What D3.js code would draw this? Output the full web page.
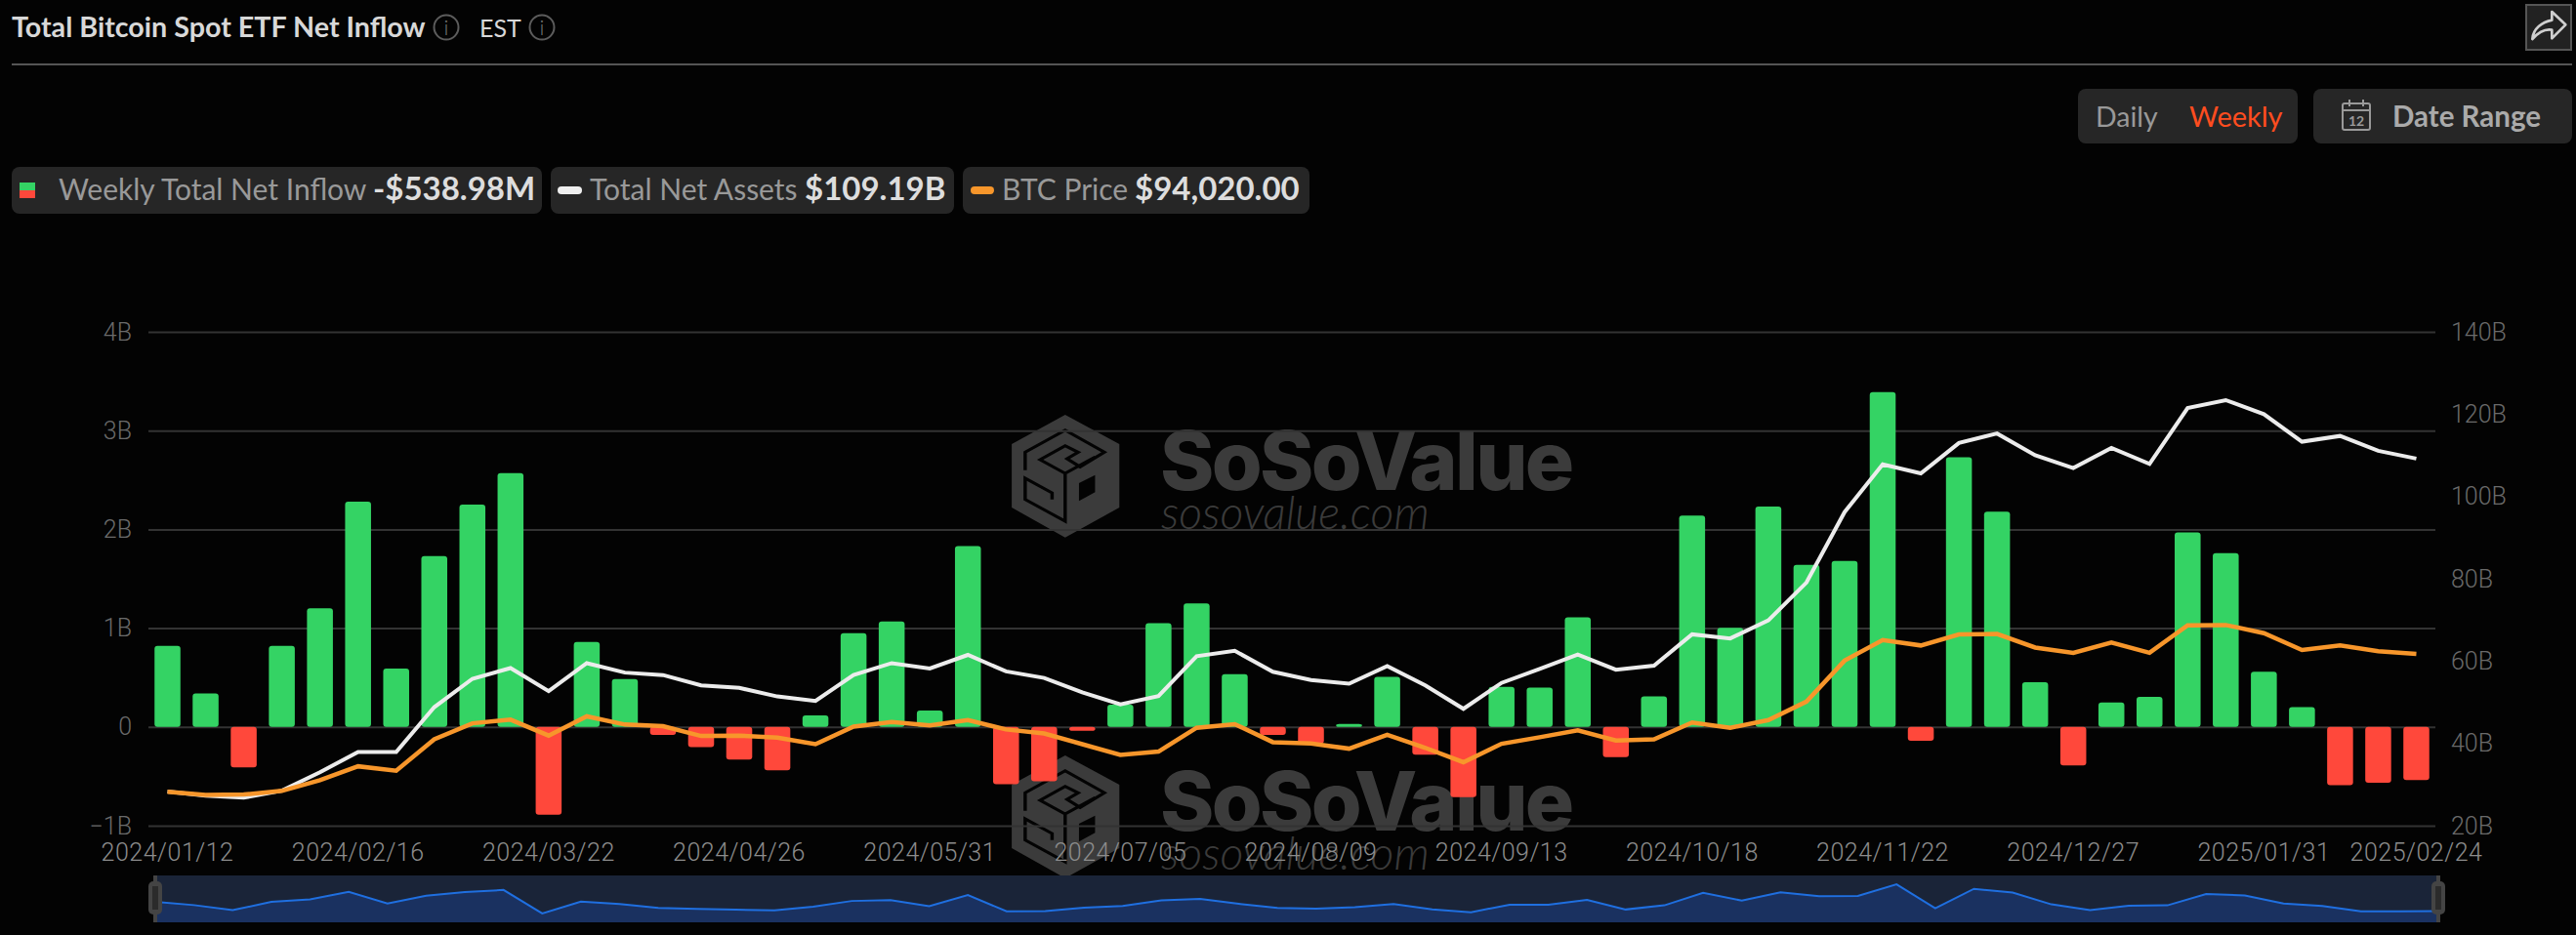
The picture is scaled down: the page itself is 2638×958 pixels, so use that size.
<!DOCTYPE html>
<html>
<head>
<meta charset="utf-8">
<title>Total Bitcoin Spot ETF Net Inflow</title>
<script src="https://cdn.jsdelivr.net/npm/d3@7/dist/d3.min.js"></script>
<style>
  html, body { margin: 0; padding: 0; background: #030303; overflow: hidden; }
  svg { display: block; }
  text { font-family: Lato, sans-serif; }
  .axis text { font-family: Roboto, sans-serif; font-weight: 300; }
  .axis .domain { display: none; }
</style>
</head>
<body>
<svg id="chart"></svg>
<script>
const categories = [
  '2024/01/12', '2024/01/19', '2024/01/26', '2024/02/02', '2024/02/09', '2024/02/16', '2024/02/23',
  '2024/03/01', '2024/03/08', '2024/03/15', '2024/03/22', '2024/03/29', '2024/04/05', '2024/04/12',
  '2024/04/19', '2024/04/26', '2024/05/03', '2024/05/10', '2024/05/17', '2024/05/24', '2024/05/31',
  '2024/06/07', '2024/06/14', '2024/06/21', '2024/06/28', '2024/07/05', '2024/07/12', '2024/07/19',
  '2024/07/26', '2024/08/02', '2024/08/09', '2024/08/16', '2024/08/23', '2024/08/30', '2024/09/06',
  '2024/09/13', '2024/09/20', '2024/09/27', '2024/10/04', '2024/10/11', '2024/10/18', '2024/10/25',
  '2024/11/01', '2024/11/08', '2024/11/15', '2024/11/22', '2024/11/29', '2024/12/06', '2024/12/13',
  '2024/12/20', '2024/12/27', '2025/01/03', '2025/01/10', '2025/01/17', '2025/01/24', '2025/01/31',
  '2025/02/07', '2025/02/14', '2025/02/21', '2025/02/24'
];

// weekly net inflow, in billions
const netInflow = [
  0.82, 0.34, -0.41, 0.82, 1.20, 2.28, 0.59, 1.73, 2.25, 2.57,
  -0.89, 0.86, 0.485, -0.08, -0.205, -0.33, -0.44, 0.117, 0.95, 1.067,
  0.167, 1.83, -0.58, -0.55, -0.04, 0.226, 1.05, 1.25, 0.535, -0.08,
  -0.167, 0.03, 0.506, -0.28, -0.71, 0.406, 0.397, 1.11, -0.305, 0.31,
  2.14, 1.004, 2.23, 1.64, 1.68, 3.39, -0.14, 2.73, 2.18, 0.452,
  -0.39, 0.247, 0.305, 1.97, 1.76, 0.56, 0.2, -0.59, -0.565, -0.539
];

// total net assets, in billions
const netAssets = [
  28.3, 27.3, 26.8, 28.5, 33.0, 37.9, 37.9, 48.8, 55.7, 58.3,
  52.7, 59.5, 57.2, 56.6, 54.1, 53.5, 51.4, 50.3, 56.6, 59.5,
  58.2, 61.5, 57.5, 55.9, 52.4, 49.5, 51.5, 61.2, 62.5, 57.4,
  55.4, 54.5, 58.8, 54.1, 48.4, 54.7, 58.1, 61.6, 57.9, 58.9,
  66.5, 65.5, 69.9, 79.1, 96.2, 107.8, 105.6, 113.0, 115.3, 110.0,
  106.9, 111.8, 107.9, 121.5, 123.4, 120.0, 113.3, 114.7, 111.1, 109.19
];

const btcPrice = [
  42670, 41450, 41600, 42970, 46940, 52130, 50450, 62200, 68150, 69520,
  63570, 70740, 67690, 67080, 63420, 63570, 62810, 60370, 66930, 68610,
  67390, 69370, 65860, 64340, 60370, 56400, 57620, 66470, 67840, 61130,
  60670, 58690, 63880, 59000, 53650, 60520, 62960, 65560, 61740, 62200,
  68460, 66470, 69370, 76240, 91500, 99130, 97150, 101270, 101420, 96380,
  94400, 98210, 94400, 104620, 104770, 101720, 95470, 97150, 95010, 94020
];

const leftTicks = [-1, 0, 1, 2, 3, 4];
const leftTickLabels = ['\u22121B', '0', '1B', '2B', '3B', '4B'];
const rightTicks = [20, 40, 60, 80, 100, 120, 140];
const xTickLabels = [
  '2024/01/12', '2024/02/16', '2024/03/22', '2024/04/26', '2024/05/31', '2024/07/05', '2024/08/09',
  '2024/09/13', '2024/10/18', '2024/11/22', '2024/12/27', '2025/01/31', '2025/02/24'
];

const width = 2638;
const height = 958;
const plot = { left: 152, right: 2494, top: 340, bottom: 846 };
const green = '#34d364';
const red = '#ff483b';
const mark = '#3b3b3b';

const svg = d3.select('#chart').attr('width', width).attr('height', height);

svg.append('rect').attr('width', width).attr('height', height).attr('fill', '#030303');

// header
const text = (x, y, str, size, fill, weight) =>
  svg.append('text')
    .attr('x', x)
    .attr('y', y)
    .attr('font-size', size)
    .attr('font-weight', weight || 400)
    .attr('fill', fill)
    .text(str);

const infoIcon = (cx, cy) => {
  svg.append('circle').attr('cx', cx).attr('cy', cy).attr('r', 12.5)
    .attr('fill', 'none').attr('stroke', '#5c5c5c').attr('stroke-width', 2);
  svg.append('text').attr('x', cx).attr('y', cy + 8).attr('text-anchor', 'middle')
    .attr('font-size', 22).attr('font-weight', 300).attr('fill', '#777').text('i');
};

text(12, 38, 'Total Bitcoin Spot ETF Net Inflow', 28.7, '#d8d8d8', 700);
infoIcon(457, 28);
text(491, 38, 'EST', 25, '#d8d8d8');
infoIcon(555, 28);

svg.append('rect').attr('x', 12).attr('y', 65).attr('width', 2622).attr('height', 2).attr('fill', '#555');

// share button
svg.append('rect').attr('x', 2587).attr('y', 5).attr('width', 46).attr('height', 46)
  .attr('fill', '#222').attr('stroke', '#555').attr('stroke-width', 2);
svg.append('path')
  .attr('transform', 'translate(2570,0) scale(0.3333)')
  .attr('d', 'M70 120 C72 88 100 68 130 62 L130 36 L172 76 L130 118 L130 92 C108 88 88 100 70 120 Z')
  .attr('fill', 'none').attr('stroke', '#cfcfcf').attr('stroke-width', 8).attr('stroke-linejoin', 'round');

// daily / weekly and date range
const pill = (x, y, w, h) =>
  svg.append('rect').attr('x', x).attr('y', y).attr('width', w).attr('height', h).attr('rx', 8).attr('fill', '#262626');

pill(2128, 91, 225, 56);
text(2146, 130, 'Daily', 28.5, '#999');
text(2242, 130, 'Weekly', 29, '#ff4d1f');
pill(2369, 91, 265, 56);
text(2450, 130, 'Date Range', 29.5, '#aaa', 700);

const cal = svg.append('g').attr('fill', 'none').attr('stroke', '#999').attr('stroke-width', 2);
cal.append('rect').attr('x', 2399).attr('y', 106).attr('width', 28).attr('height', 27).attr('rx', 2);
cal.append('path').attr('d', 'M2399 113 H2427 M2406 102 V109 M2420 102 V109');
text(2413, 129, '12', 14, '#999', 700).attr('text-anchor', 'middle');

// legend pills
pill(12, 171, 543, 48);
svg.append('rect').attr('x', 20).attr('y', 187).attr('width', 16).attr('height', 8).attr('fill', green);
svg.append('rect').attr('x', 20).attr('y', 195).attr('width', 16).attr('height', 8).attr('fill', red);
text(60, 205, 'Weekly Total Net Inflow', 30, '#999');
text(382, 205, '-$538.98M', 33, '#ddd', 700);

pill(564, 171, 413, 48);
svg.append('rect').attr('x', 571).attr('y', 191).attr('width', 25).attr('height', 8).attr('rx', 4).attr('fill', '#eee');
text(604, 205, 'Total Net Assets', 30, '#999');
text(824, 205, '$109.19B', 33, '#ddd', 700);

pill(986, 171, 355, 48);
svg.append('rect').attr('x', 994).attr('y', 191).attr('width', 24).attr('height', 8).attr('rx', 4).attr('fill', '#f7962b');
text(1026, 205, 'BTC Price', 30, '#999');
text(1162, 205, '$94,020.00', 33, '#ddd', 700);

// watermark, sits behind everything else in the plot
const watermark = (top) => {
  const wm = svg.append('g').attr('transform', `translate(0,${top - 425})`);
  wm.append('text').attr('x', 1188).attr('y', 502)
    .style('font-family', 'Inter').attr('font-size', 84).attr('font-weight', 800)
    .attr('letter-spacing', -2.7).attr('fill', mark).text('SoSoValue');
  wm.append('text').attr('x', 1189).attr('y', 542)
    .attr('font-size', 46.5).attr('font-style', 'italic').attr('font-weight', 300)
    .attr('fill', mark).text('sosovalue.com');

  const logo = wm.append('g').attr('transform', 'translate(1020,410) scale(0.3827,0.3333)');
  logo.append('path')
    .attr('d', 'M185 45 L330 135 V330 L185 422 L42 330 V135 Z')
    .attr('fill', mark);
  logo.append('path')
    .attr('d', 'M78 215 V160 L185 92 L290 160 L225 205 L190 180 L220 160 L185 140 L118 183 L185 225 V372 L78 305 V240 L150 285 V305 M185 225 L265 175')
    .attr('fill', 'none').attr('stroke', '#030303').attr('stroke-width', 9);
  logo.append('path')
    .attr('d', 'M222 255 L265 230 V283 L222 310 Z')
    .attr('fill', '#030303');
};
watermark(425);
watermark(774);

// scales
const x = d3.scaleBand().domain(categories).range([plot.left, plot.right]).paddingInner(0.32).paddingOuter(0.16);
const yLeft = d3.scaleLinear().domain([-1, 4]).range([plot.bottom, plot.top]);
const yRight = d3.scaleLinear().domain([20, 140]).range([plot.bottom, plot.top]);
// BTC price has no visible axis
const yPrice = d3.scaleLinear().domain([30000, 214000]).range([plot.bottom, plot.top]);

const center = (d) => x(d) + x.bandwidth() / 2;

// axes
const leftAxis = svg.append('g')
  .attr('class', 'axis')
  .attr('transform', `translate(${plot.left},0)`)
  .call(
    d3.axisLeft(yLeft)
      .tickValues(leftTicks)
      .tickFormat((d, i) => leftTickLabels[i])
      .tickSize(-(plot.right - plot.left))
      .tickPadding(17)
  );
leftAxis.selectAll('line').attr('stroke', '#333').attr('stroke-width', 2);
leftAxis.selectAll('text').attr('fill', '#6a6a6a').attr('font-size', 25);

const rightAxis = svg.append('g')
  .attr('class', 'axis')
  .attr('transform', `translate(${plot.right},0)`)
  .call(
    d3.axisRight(yRight)
      .tickValues(rightTicks)
      .tickFormat((d) => `${d}B`)
      .tickSize(0)
      .tickPadding(16)
  );
rightAxis.selectAll('text').attr('fill', '#6a6a6a').attr('font-size', 25);

const bottomAxis = svg.append('g')
  .attr('class', 'axis')
  .attr('transform', `translate(0,${plot.bottom})`)
  .call(d3.axisBottom(x).tickValues(xTickLabels).tickSize(0).tickPadding(18));
bottomAxis.selectAll('text').attr('fill', '#8c8c8c').attr('font-size', 25).attr('letter-spacing', 0.5);

// bars
svg.append('g')
  .selectAll('rect')
  .data(netInflow)
  .join('rect')
  .attr('x', (d, i) => x(categories[i]))
  .attr('y', (d) => yLeft(Math.max(d, 0)))
  .attr('width', x.bandwidth())
  .attr('height', (d) => Math.abs(yLeft(d) - yLeft(0)))
  .attr('rx', 3)
  .attr('fill', (d) => (d >= 0 ? green : red));

// lines
const assetsLine = d3.line().x((d, i) => center(categories[i])).y((d) => yRight(d));
const priceLine = d3.line().x((d, i) => center(categories[i])).y((d) => yPrice(d));

svg.append('path')
  .attr('d', assetsLine(netAssets))
  .attr('fill', 'none').attr('stroke', '#ececec').attr('stroke-width', 4);
svg.append('path')
  .attr('d', priceLine(btcPrice))
  .attr('fill', 'none').attr('stroke', '#f7962b').attr('stroke-width', 4.5);

// navigator under the chart
const nav = { left: 159, right: 2497, top: 897, bottom: 945 };
const navX = d3.scalePoint().domain(categories).range([nav.left, nav.right]);
const navY = d3.scaleLinear().domain([-2.19, 4.7]).range([nav.bottom, nav.top]);

svg.append('rect')
  .attr('x', nav.left).attr('y', nav.top)
  .attr('width', nav.right - nav.left).attr('height', nav.bottom - nav.top)
  .attr('fill', '#1a2438');

const navArea = d3.area()
  .x((d, i) => navX(categories[i]))
  .y0(nav.bottom)
  .y1((d) => navY(d));
const navLine = d3.line().x((d, i) => navX(categories[i])).y((d) => navY(d));

svg.append('path').attr('d', navArea(netInflow)).attr('fill', '#1a3160');
svg.append('path').attr('d', navLine(netInflow)).attr('fill', 'none').attr('stroke', '#1f6fe0').attr('stroke-width', 2);

[nav.left, nav.right].forEach((hx) => {
  svg.append('rect').attr('x', hx - 2).attr('y', nav.top).attr('width', 4).attr('height', nav.bottom - nav.top).attr('fill', '#444');
  svg.append('rect').attr('x', hx - 7).attr('y', 903).attr('width', 14).attr('height', 34).attr('rx', 5).attr('fill', '#444');
  svg.append('rect').attr('x', hx - 3).attr('y', 908).attr('width', 6).attr('height', 24).attr('fill', '#2b2b2b');
});
</script>
</body>
</html>
